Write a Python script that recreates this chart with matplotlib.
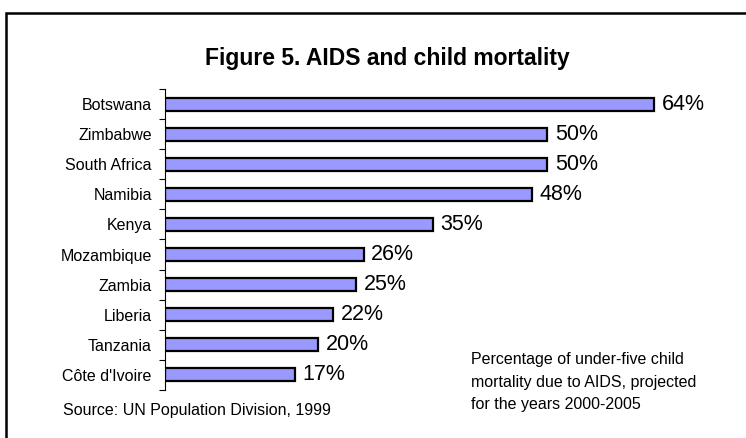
import matplotlib.pyplot as plt
from matplotlib.patches import Rectangle
import numpy as np

plt.rcParams["font.family"] = ["Liberation Sans", "DejaVu Sans"]

countries = ["Botswana", "Zimbabwe", "South Africa", "Namibia", "Kenya",
             "Mozambique", "Zambia", "Liberia", "Tanzania", "Côte d'Ivoire"]
percent = [64, 50, 50, 48, 35, 26, 25, 22, 20, 17]

title = "Figure 5. AIDS and child mortality"
source = "Source: UN Population Division, 1999"
note = "Percentage of under-five child\nmortality due to AIDS, projected\nfor the years 2000-2005"

W, H = 746, 438
fig = plt.figure(figsize=(W / 100, H / 100), dpi=100)
fig.patch.set_facecolor("white")

# axes placed in pixel terms: spine at x=165, rows from y=89 to y=390
ax = fig.add_axes([165 / W, 1 - 390 / H, 535 / W, 301 / H])
y = np.arange(len(countries))
ax.barh(y, percent, height=0.43, color="#9999ff", edgecolor="black", linewidth=1.6)
for yi, v in zip(y, percent):
    ax.text(v + 1.0, yi, f"{v}%", va="center", ha="left", fontsize=15.5)

ax.set_xlim(0, 70)
ax.set_ylim(len(countries) - 0.5, -0.5)
ax.set_yticks(y)
ax.set_yticklabels(countries, fontsize=11.5)
ax.set_yticks(np.arange(len(countries) + 1) - 0.5, minor=True)
ax.tick_params(axis="y", which="major", length=0, pad=9.5)
ax.tick_params(axis="y", which="minor", length=4, width=0.8)
ax.set_xticks([])
for s in ["top", "right", "bottom"]:
    ax.spines[s].set_visible(False)
ax.spines["left"].set_linewidth(0.8)

fig.text(387 / W, 1 - 59 / H, title, ha="center", va="center",
         fontsize=16.5, fontweight="bold")
fig.text(63 / W, 1 - 411 / H, source, ha="left", va="center", fontsize=11.5)
fig.text(471 / W, 1 - 382 / H, note, ha="left", va="center", fontsize=11.5,
         linespacing=1.62)

# outer frame, running past the right and bottom edges
fig.patches.append(Rectangle((6 / W, -0.05), 1.0, 1 - 13 / H + 0.05,
                             transform=fig.transFigure, fill=False,
                             edgecolor="black", linewidth=1.8, clip_on=False))

fig.savefig("out.png", dpi=100)
